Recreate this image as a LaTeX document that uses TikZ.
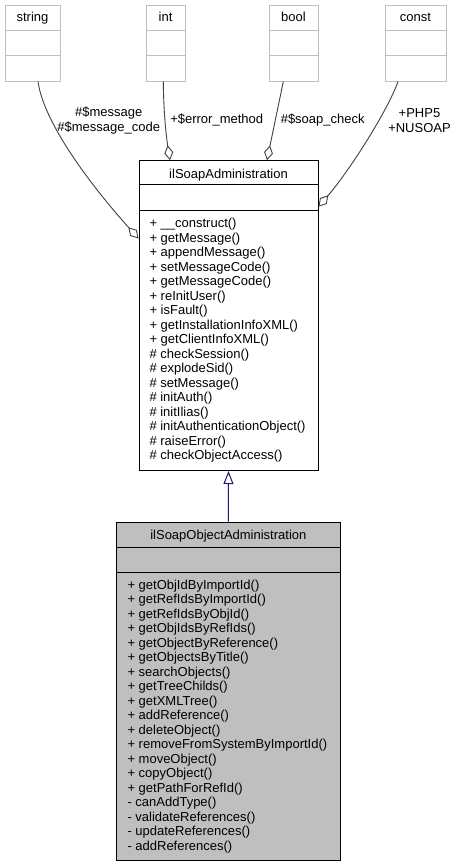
\documentclass[tikz,border=0pt]{standalone}
\usepackage{fontspec}
\setmainfont{Liberation Sans}
\usetikzlibrary{arrows.meta}
\definecolor{edgegray}{HTML}{404040}
\definecolor{boxgray}{HTML}{BFBFBF}
\definecolor{navyline}{HTML}{191970}
\begin{document}
\begin{tikzpicture}[x=1pt,y=-1pt,
  txt/.style={font=\fontsize{13}{14.5}\selectfont, inner sep=0pt},
  tbox/.style={draw=boxgray, line width=1pt, fill=white, inner sep=0pt, rectangle},
  cbox/.style={draw=black, line width=1pt, inner sep=0pt, rectangle},
  tdiv/.style={draw=boxgray, line width=1pt},
  cdiv/.style={draw=black, line width=1pt},
  agg/.style={draw=edgegray, line width=0.9pt, -{Diamond[open,length=15pt,width=9pt,line width=0.9pt]}},
  gen/.style={draw=navyline, line width=1pt, -{Triangle[open,length=13pt,width=10pt,line width=1pt]}}
]
\useasboundingbox (0,0) rectangle (457,868);

% top type boxes
\node[tbox, minimum width=55pt, minimum height=76pt] (tstring) at (32.5,43) {};
\node[tbox, minimum width=39pt, minimum height=76pt] (tint) at (165.5,43) {};
\node[tbox, minimum width=49pt, minimum height=76pt] (tbool) at (293.5,43) {};
\node[tbox, minimum width=61pt, minimum height=76pt] (tconst) at (415.5,43) {};
\foreach \b in {tstring,tint,tbool,tconst}{
  \draw[tdiv] ([yshift=-26pt]\b.north west) -- ([yshift=-26pt]\b.north east);
  \draw[tdiv] ([yshift=-51pt]\b.north west) -- ([yshift=-51pt]\b.north east);
}
\node[txt, anchor=base] (tstringlbl) at (32.5,21.8) {string};
\node[txt, anchor=base] (tintlbl) at (165.5,21.8) {int};
\node[txt, anchor=base] (tboollbl) at (293.5,21.8) {bool};
\node[txt, anchor=base] (tconstlbl) at (415.5,21.8) {const};

% ilSoapAdministration
\node[cbox, fill=white, minimum width=179pt, minimum height=309.8pt] (admin) at (228.5,315.6) {};
\draw[cdiv] ([yshift=-24.3pt]admin.north west) -- ([yshift=-24.3pt]admin.north east);
\draw[cdiv] ([yshift=-50.1pt]admin.north west) -- ([yshift=-50.1pt]admin.north east);
\node[txt, anchor=base] (admintitle) at (228.5,178) {ilSoapAdministration};
\foreach \t [count=\i from 0] in {
  {+ \_\_construct()},{+ getMessage()},{+ appendMessage()},{+ setMessageCode()},
  {+ getMessageCode()},{+ reInitUser()},{+ isFault()},{+ getInstallationInfoXML()},
  {+ getClientInfoXML()},{\# checkSession()},{\# explodeSid()},{\# setMessage()},
  {\# initAuth()},{\# initIlias()},{\# initAuthenticationObject()},{\# raiseError()},
  {\# checkObjectAccess()}}{
  \node[txt, anchor=base west] (am\i) at (149.3,227.8+\i*14.5) {\t};
}

% ilSoapObjectAdministration
\node[cbox, fill=boxgray, minimum width=223.3pt, minimum height=338pt] (objadmin) at (228.35,691) {};
\draw[cdiv] ([yshift=-25.7pt]objadmin.north west) -- ([yshift=-25.7pt]objadmin.north east);
\draw[cdiv] ([yshift=-50.7pt]objadmin.north west) -- ([yshift=-50.7pt]objadmin.north east);
\node[txt, anchor=base] (objtitle) at (228.35,539) {ilSoapObjectAdministration};
\foreach \t [count=\i from 0] in {
  {+ getObjIdByImportId()},{+ getRefIdsByImportId()},{+ getRefIdsByObjId()},
  {+ getObjIdsByRefIds()},{+ getObjectByReference()},{+ getObjectsByTitle()},
  {+ searchObjects()},{+ getTreeChilds()},{+ getXMLTree()},{+ addReference()},
  {+ deleteObject()},{+ removeFromSystemByImportId()},{+ moveObject()},
  {+ copyObject()},{+ getPathForRefId()},{- canAddType()},{- validateReferences()},
  {- updateReferences()},{- addReferences()}}{
  \node[txt, anchor=base west] (om\i) at (127.3,589+\i*14.5) {\t};
}

% inheritance
\draw[gen] (objadmin.north) -- (admin.south);

% aggregations
\draw[agg] ([xshift=5.5pt]tstring.south) .. controls (44,125) and (95,190) .. ([yshift=-78.3pt]admin.north west);
\draw[agg] ([xshift=-2.2pt]tint.south) .. controls (163.5,110) and (166,135) .. ([xshift=-58.5pt]admin.north);
\draw[agg] ([xshift=-10.2pt]tbool.south) -- ([xshift=38.5pt]admin.north);
\draw[agg] ([xshift=-17.5pt]tconst.south) .. controls (388,110) and (350,170) .. ([yshift=-46.5pt]admin.north east);

% labels
\node[txt, align=center] (lblmsg) at (108.7,120.5) {\#\$message\\\#\$message\_code};
\node[txt] (lblerr) at (216.7,120) {+\$error\_method};
\node[txt] (lblsoap) at (322.7,120.5) {\#\$soap\_check};
\node[txt, align=center] (lblphp) at (419.5,120.5) {+PHP5\\+NUSOAP};
\end{tikzpicture}
\end{document}
